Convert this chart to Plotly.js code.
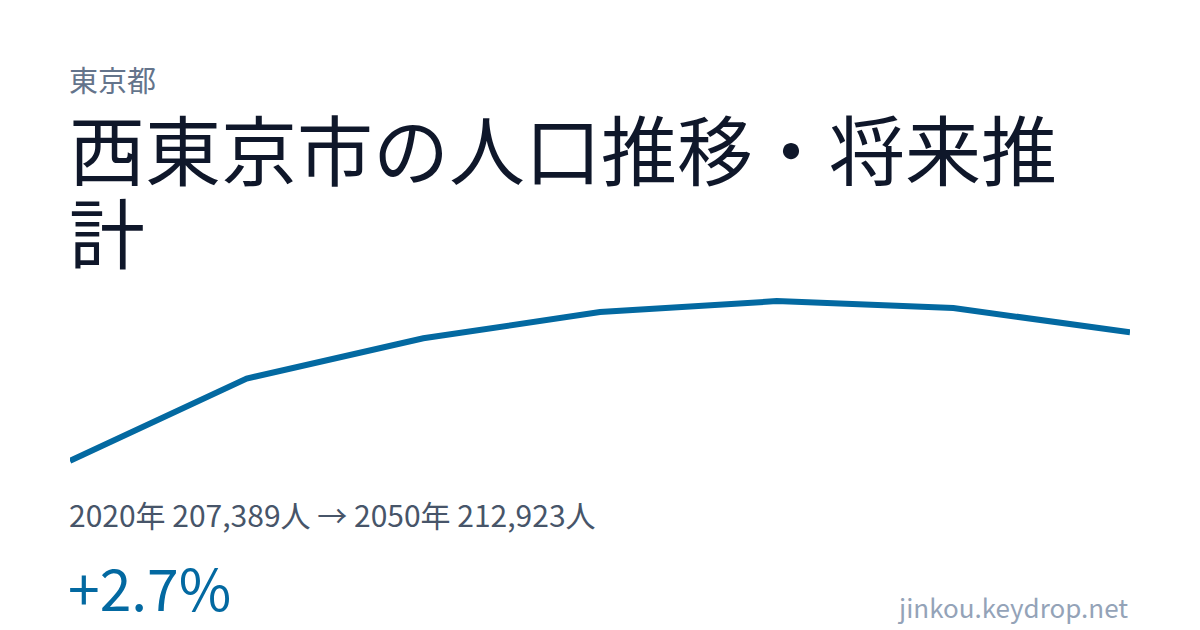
<!DOCTYPE html>
<html>
<head>
<meta charset="utf-8">
<script src="https://cdn.plot.ly/plotly-3.0.1.min.js"></script>
<style>
  html, body { margin: 0; padding: 0; background: #ffffff; }
  #chart { width: 1200px; height: 630px; }
</style>
</head>
<body>
<div id="chart"></div>
<script>
// 西東京市 population, actual (2020) and projections
const years = [2020, 2025, 2030, 2035, 2040, 2045, 2050];
const population = [207389, 210930, 212660, 213790, 214260, 213960, 212923];

const prefName = '東京都';
const titleLine1 = '西東京市の人口推移・将来推';
const titleLine2 = '計';
const siteName = 'jinkou.keydrop.net';

const fmt = n => n.toLocaleString('en-US');
const first = population[0], last = population[population.length - 1];
const change = ((last - first) / first * 100).toFixed(1);
const summary = `${years[0]}年 ${fmt(first)}人 → ${years[years.length - 1]}年 ${fmt(last)}人`;
const changeText = (change >= 0 ? '+' : '') + change + '%';

// plot box in pixels, used to place the text around it
const W = 1200, H = 630;
const margin = { l: 70, r: 70, t: 280, b: 150 };
const plotW = W - margin.l - margin.r, plotH = H - margin.t - margin.b;
const px = x => (x - margin.l) / plotW;
const py = y => (H - margin.b - y) / plotH;

// pad the y range so the thick line is not clipped
const yMin = Math.min(...population), yMax = Math.max(...population);
const perPx = (yMax - yMin) / 159;
const yRange = [yMin - 19 * perPx, yMax + 21 * perPx];

const font = '"Noto Sans CJK JP", "Noto Sans", sans-serif';

const trace = {
    x: years,
    y: population,
    mode: 'lines',
    type: 'scatter',
    line: { color: '#0369a1', width: 6, shape: 'linear' },
    hoverinfo: 'skip',
};

function label(text, x, y, size, color, xanchor) {
    return {
        text: text, xref: 'paper', yref: 'paper',
        x: px(x), y: py(y), xanchor: xanchor || 'left', yanchor: 'middle',
        showarrow: false, borderpad: 0,
        font: { family: font, size: size, color: color },
    };
}

const layout = {
    width: W,
    height: H,
    margin: margin,
    paper_bgcolor: '#ffffff',
    plot_bgcolor: '#ffffff',
    showlegend: false,
    xaxis: { range: [years[0], years[years.length - 1]], visible: false, fixedrange: true },
    yaxis: { range: yRange, visible: false, fixedrange: true },
    annotations: [
        label(prefName, 68, 79, 29, '#64748b'),
        label(titleLine1, 68, 147, 76, '#0f172a'),
        label(titleLine2, 68, 230, 76, '#0f172a'),
        label(summary, 68, 514, 30, '#475569'),
        label(changeText, 67, 586, 57, '#0369a1'),
        label(siteName, 1129, 606, 26, '#94a3b8', 'right'),
    ],
};

Plotly.newPlot('chart', [trace], layout, { staticPlot: true, displayModeBar: false });
</script>
</body>
</html>
